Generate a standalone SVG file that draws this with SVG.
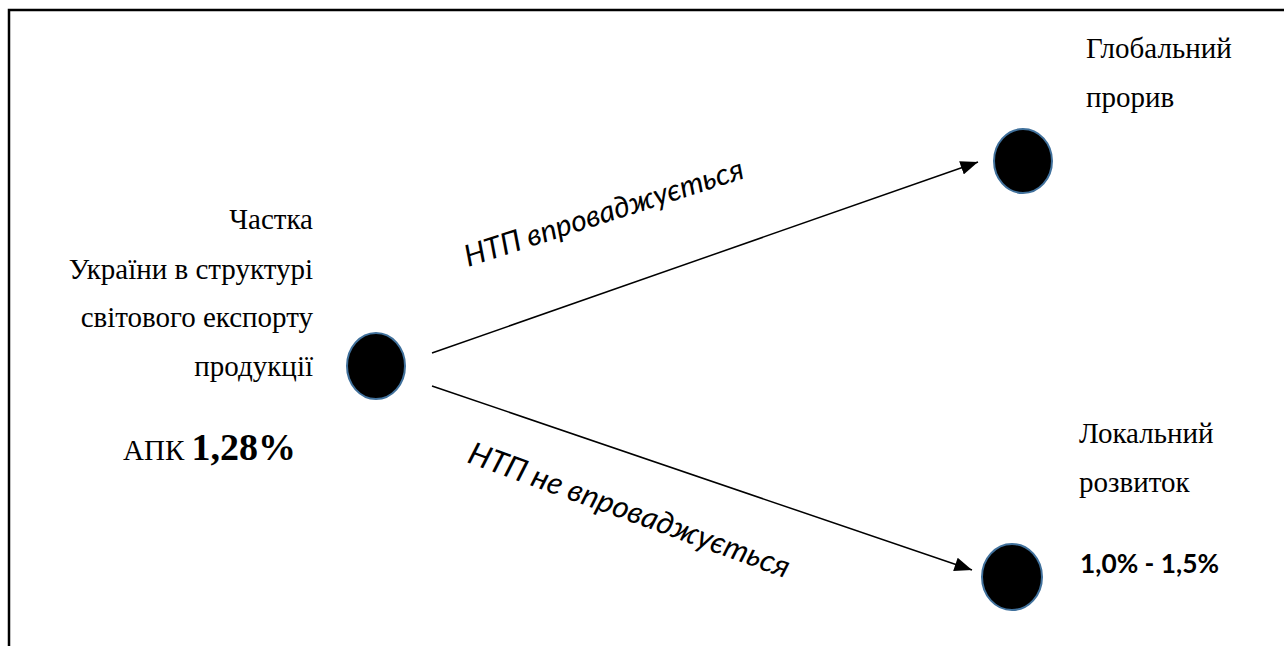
<svg xmlns="http://www.w3.org/2000/svg" width="1284" height="646" viewBox="0 0 1284 646">
<style>
.serif{font-family:"Liberation Serif","Times New Roman",serif;font-size:29px;fill:#000}
.lbl{font-family:Lato,"Open Sans",sans-serif;font-style:italic;fill:#000}
.node{fill:#000;stroke:#41719C;stroke-width:2}
.edge{stroke:#000;stroke-width:1.5;fill:none}
</style>
<defs>
<marker id="arr" viewBox="0 0 10 8" refX="10" refY="4" markerWidth="18" markerHeight="14" markerUnits="userSpaceOnUse" orient="auto">
<path d="M0,0 L10,4 L0,8 z" fill="#000"/>
</marker>
</defs>
<g id="frame">
<path d="M9,646 V10 H1284" fill="none" stroke="#000" stroke-width="2.5"/>
</g>
<g id="connectors">
<line class="edge" x1="432" y1="353" x2="978" y2="162" marker-end="url(#arr)"/>
<line class="edge" x1="432" y1="386" x2="972" y2="570" marker-end="url(#arr)"/>
<text class="lbl" font-size="30" transform="translate(468,267) rotate(-17.8)">НТП впроваджується</text>
<text class="lbl" font-size="31" transform="translate(466,462) rotate(20)">НТП не впроваджується</text>
</g>
<g id="source">
<ellipse class="node" cx="376" cy="366" rx="29" ry="33"/>
<text class="serif" text-anchor="end" x="313" y="229">Частка</text>
<text class="serif" text-anchor="end" x="313" y="279">України в структурі</text>
<text class="serif" text-anchor="end" x="313" y="327">світового експорту</text>
<text class="serif" text-anchor="end" x="313" y="376">продукції</text>
<text class="serif" x="123" y="460" font-size="28">АПК <tspan font-weight="bold" font-size="38">1,28%</tspan></text>
</g>
<g id="global">
<ellipse class="node" cx="1023" cy="161" rx="29" ry="32"/>
<text class="serif" x="1086" y="58">Глобальний</text>
<text class="serif" x="1086" y="107">прорив</text>
</g>
<g id="local">
<ellipse class="node" cx="1012" cy="577" rx="30" ry="33"/>
<text class="serif" x="1079" y="443">Локальний</text>
<text class="serif" x="1079" y="492">розвиток</text>
<text x="1080" y="573" font-family="Lato,'Open Sans',sans-serif" font-weight="bold" font-size="26.3">1,0% - 1,5%</text>
</g>
</svg>
